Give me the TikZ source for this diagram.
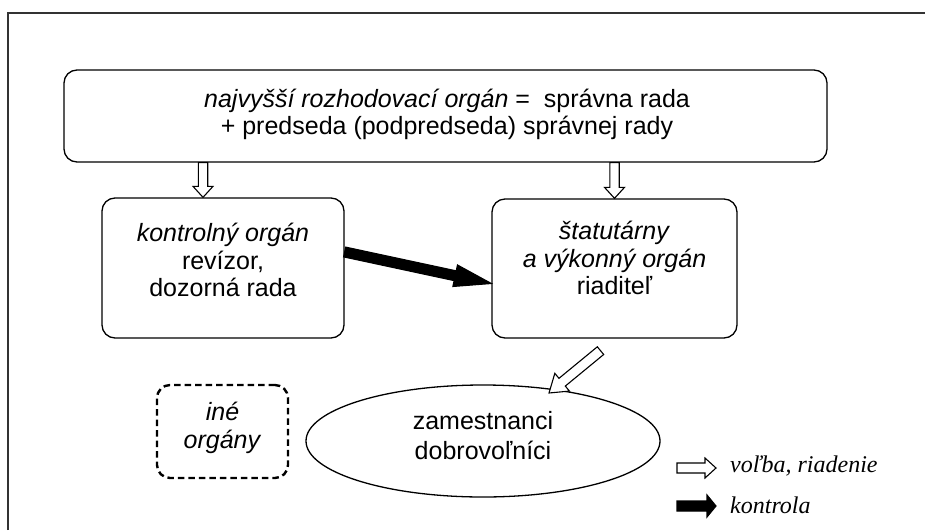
\documentclass[tikz,border=0pt]{standalone}
\usepackage{fontspec}
\setmainfont{Liberation Sans}
\newfontfamily\legendfont{Liberation Serif}
\usetikzlibrary{shapes.geometric,calc}
\tikzset{
  framel/.style={draw=black!80, line width=1.8pt},
  orgbox/.style={draw, line width=1.3pt, rounded corners=13pt, inner sep=0pt},
  otherbox/.style={draw, line width=2.4pt, dash pattern=on 6.5pt off 4pt, rounded corners=13pt, inner sep=0pt},
  txt/.style={font=\fontsize{25}{27.5}\selectfont, align=center, inner sep=0pt},
  legtxt/.style={font=\legendfont\itshape\fontsize{24}{28}\selectfont, anchor=west, inner sep=0pt},
  arrowline/.style={draw=black, line width=1.1pt, line join=miter},
}
\newcommand\barrow[6]{%
  \coordinate (ba-h) at ($(#2)!#5!(#1)$);
  \draw[arrowline, fill=#6]
    ($(#1)!#3!90:(#2)$) -- ($(ba-h)!#3!-90:(#1)$) -- ($(ba-h)!#4!-90:(#1)$)
    -- (#2) -- ($(ba-h)!#4!90:(#1)$) -- ($(ba-h)!#3!90:(#1)$)
    -- ($(#1)!#3!-90:(#2)$) -- cycle;}
\begin{document}
\begin{tikzpicture}[x=1pt, y=-1pt]
  \useasboundingbox (0,0) rectangle (925,530);
  % frame
  \coordinate (fbl) at (8,530);
  \coordinate (ftl) at (8,13);
  \coordinate (ftr) at (925,13);
  \draw[framel] (fbl) -- (ftl) -- (ftr);

  % nodes
  \node[orgbox, minimum width=763pt, minimum height=92pt] (top) at (445.5,116) {};
  \node[txt] (toptxt) at (447,114.5) {\textit{najvyšší rozhodovací orgán} =\ \ správna rada\\+ predseda (podpredseda) správnej rady};

  \node[orgbox, minimum width=242pt, minimum height=140pt] (lb) at (223,268) {};
  \node[txt] (lbtxt) at (223,260) {\textit{kontrolný orgán}\\revízor,\\dozorná rada};

  \node[orgbox, minimum width=245pt, minimum height=139pt] (rb) at (614.5,268.5) {};
  \node[txt] (rbtxt) at (614.5,258) {\textit{štatutárny}\\\textit{a výkonný orgán}\\riaditeľ};

  \node[draw, ellipse, line width=1.3pt, minimum width=354pt, minimum height=112pt, inner sep=0pt] (ell) at (483,441) {};
  \node[txt, font=\fontsize{25}{30}\selectfont] (elltxt) at (483,436) {zamestnanci\\dobrovoľníci};

  \node[otherbox, minimum width=131pt, minimum height=93pt] (ob) at (222.5,431.5) {};
  \node[txt] (obtxt) at (222.5,428) {\textit{iné}\\\textit{orgány}};

  % connectors
  \coordinate (a1e) at ([xshift=-20pt]lb.north);
  \coordinate (a1s) at (a1e |- top.south);
  \barrow{a1s}{a1e}{4.7pt}{10pt}{11pt}{white}

  \coordinate (a2e) at (rb.north);
  \coordinate (a2s) at (a2e |- top.south);
  \barrow{a2s}{a2e}{4.7pt}{10pt}{11pt}{white}

  \coordinate (k1) at ([yshift=16pt]lb.east);
  \coordinate (k2) at ([yshift=-15pt]rb.west);
  \barrow{k1}{k2}{5pt}{11pt}{37pt}{black}

  \coordinate (d1) at ($(rb.south)+(-14,12)$);
  \coordinate (d2) at ($(ell.center)+(66,-48)$);
  \barrow{d1}{d2}{5pt}{11.5pt}{17pt}{white}

  % legend
  \coordinate (l1s) at (677,468);
  \coordinate (l1e) at (716,468);
  \barrow{l1s}{l1e}{5pt}{10pt}{11pt}{white}
  \node[legtxt] (leg1) at (730,466) {voľba, riadenie};

  \coordinate (l2s) at (677,506);
  \coordinate (l2e) at (716,506);
  \barrow{l2s}{l2e}{5pt}{11pt}{9pt}{black}
  \node[legtxt] (leg2) at (730,505) {kontrola};
\end{tikzpicture}
\end{document}
